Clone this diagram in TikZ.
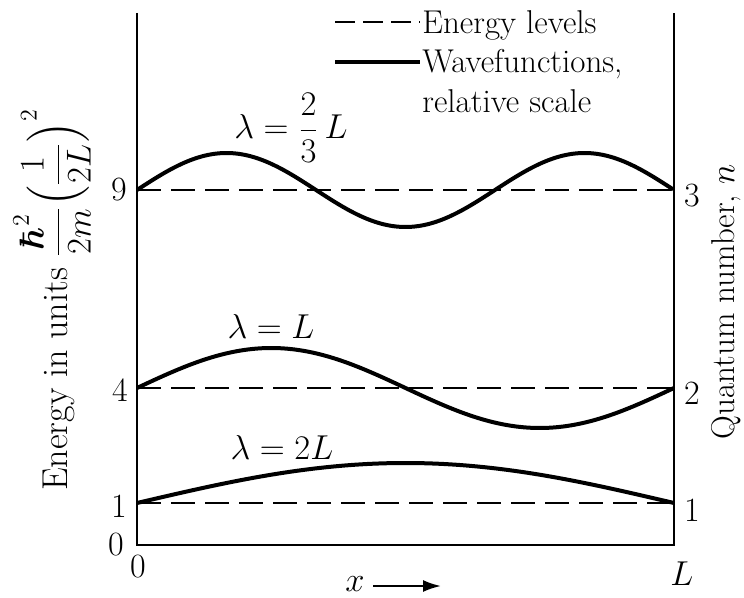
\documentclass[tikz,border=0pt]{standalone}
\usepackage{amsmath}
\usetikzlibrary{arrows.meta}
\begin{document}
\begin{tikzpicture}[x=0.5pt,y=-0.5pt,
  axis/.style={line width=1.1pt},
  level/.style={line width=0.8pt,dash pattern=on 12pt off 5pt},
  wave/.style={line width=2pt,line join=round},
  lbl/.style={font=\fontsize{16.5}{20}\selectfont,inner sep=0pt},
  wl/.style={font=\fontsize{17}{20}\selectfont,inner sep=0pt},
  num/.style={font=\fontsize{17}{20}\selectfont,inner sep=0pt}]
\useasboundingbox (0,0) rectangle (744,598);
% frame
\coordinate (tl) at (137,13);
\coordinate (bl) at (137,545);
\coordinate (tr) at (674,13);
\coordinate (br) at (674,545);
\draw[axis] (tl) -- (bl) -- (br) -- (tr);
% energy levels
\coordinate (l9a) at (137,190); \coordinate (l9b) at (674,190);
\coordinate (l4a) at (137,388); \coordinate (l4b) at (674,388);
\coordinate (l1a) at (137,503); \coordinate (l1b) at (674,503);
\draw[level] (l9a) -- (l9b);
\draw[level] (l4a) -- (l4b);
\draw[level] (l1a) -- (l1b);
% wavefunctions
\draw[wave] plot[domain=0:1,samples=80,smooth] ({137+537*\x},{503-40*sin(180*\x)});
\draw[wave] plot[domain=0:1,samples=80,smooth] ({137+537*\x},{388-40*sin(360*\x)});
\draw[wave] plot[domain=0:1,samples=100,smooth] ({137+537*\x},{190-37*sin(540*\x)});
% wavelength labels
\node[wl] (w3) at (291,128) {$\lambda = \dfrac{2}{3}\,L$};
\node[wl] (w2) at (271,327) {$\lambda = L$};
\node[wl] (w1) at (282,447) {$\lambda = 2L$};
% left numbers
\node[num] (n9) at (119,190) {9};
\node[num] (n4) at (120,390) {4};
\node[num] (n1) at (119,506) {1};
\node[num] (n0) at (116,545) {0};
\node[num] (x0) at (138,567) {0};
\node[num] (xL) at (682,574) {$L$};
% right numbers
\node[num] (q3) at (692,196) {3};
\node[num] (q2) at (692,393) {2};
\node[num] (q1) at (692,510) {1};
% x arrow
\node[num] (xl) at (355,584) {$x$};
\coordinate (xa) at (441,586);
\draw[line width=1.1pt,-{Latex[length=9pt,width=6pt]}] (xl.east |- xa) ++(8,0) -- (xa);
% axis titles
\node[font=\fontsize{18}{20}\selectfont,inner sep=0pt,rotate=90,anchor=base] (ylab) at (67,300) {Energy in units $\dfrac{\boldsymbol{\hbar}^2}{2m}\Bigl(\dfrac{1}{2L}\Bigr)^{2}$};
\node[font=\fontsize{16.5}{20}\selectfont,inner sep=0pt,rotate=90] (qlab) at (726,302) {Quantum number, $n$};
% legend
\coordinate (d1) at (335,22); \coordinate (d2) at (420,22);
\coordinate (s1) at (335,62); \coordinate (s2) at (420,62);
\draw[line width=0.9pt,dash pattern=on 10pt off 4pt] (d1) -- (d2);
\draw[wave] (s1) -- (s2);
\node[lbl,anchor=west] (le) at (422,25) {Energy levels};
\node[lbl,anchor=west,align=left] (lw) at (422,81) {Wavefunctions,\\relative scale};
\end{tikzpicture}
\end{document}
